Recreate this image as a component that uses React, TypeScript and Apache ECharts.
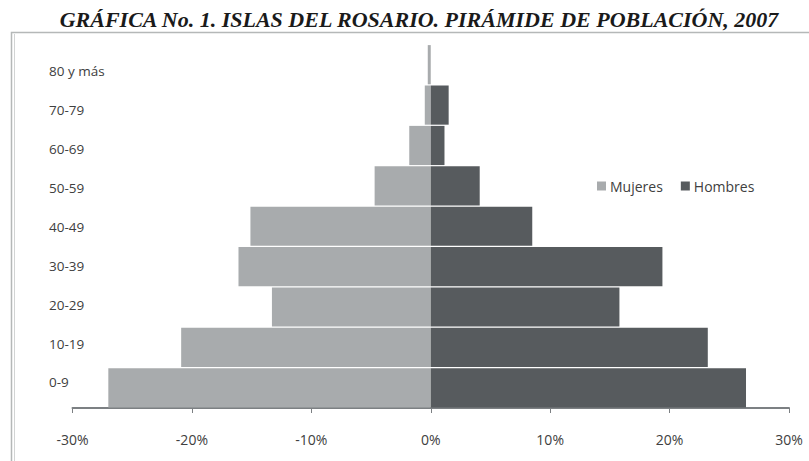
import React, { useEffect, useRef } from "react";
import * as echarts from "echarts";

const categories = ["0-9", "10-19", "20-29", "30-39", "40-49", "50-59", "60-69", "70-79", "80 y más"];
const mujeres = [27.0, 20.9, 13.3, 16.1, 15.1, 4.7, 1.8, 0.5, 0.25];
const hombres = [26.4, 23.2, 15.8, 19.4, 8.5, 4.1, 1.15, 1.5, 0];
const xTicks = { min: -30, max: 30, interval: 10 };
const titleText = "GRÁFICA No. 1. ISLAS DEL ROSARIO. PIRÁMIDE DE POBLACIÓN, 2007";

const FONT = "'Open Sans', 'Noto Sans', sans-serif";

export default function App() {
  const ref = useRef<HTMLDivElement>(null);
  useEffect(() => {
    if (!ref.current) return;
    const chart = echarts.init(ref.current, undefined, { renderer: "svg" });
    chart.setOption({
      animation: false,
      backgroundColor: "#ffffff",
      textStyle: { fontFamily: FONT },
      graphic: [
        {
          type: "rect",
          shape: { x: 11.5, y: 32.5, width: 900, height: 500 },
          style: { fill: "none", stroke: "#b5b8b8", lineWidth: 1.5 },
          silent: true,
        },
        {
          type: "line",
          shape: { x1: 14.5, y1: 34, x2: 14.5, y2: 470 },
          style: { stroke: "#d2d4d4", lineWidth: 1 },
          silent: true,
        },
        {
          type: "text",
          x: 419,
          y: 19,
          style: {
            text: titleText,
            fill: "#1a1a1a",
            font: "italic bold 22px 'Liberation Serif', serif",
            textAlign: "center",
            textVerticalAlign: "middle",
          },
          silent: true,
        },
      ],
      legend: {
        left: 592,
        top: 174,
        itemWidth: 9,
        itemHeight: 9,
        itemGap: 18,
        icon: "rect",
        data: ["Mujeres", "Hombres"],
        textStyle: { fontFamily: FONT, fontSize: 14, color: "#404040", padding: [0, 0, 0, -1] },
      },
      grid: [
        { left: 72.5, right: 20, top: 44.5, height: 363.5, containLabel: false },
        { left: 72, right: 20, top: 51.5, height: 350.4, containLabel: false },
      ],
      xAxis: [
        {
          gridIndex: 0,
          type: "value",
          min: xTicks.min,
          max: xTicks.max,
          interval: xTicks.interval,
          axisLine: { show: true, lineStyle: { color: "#7c8083", width: 2 } },
          axisTick: { show: true, length: 5, lineStyle: { color: "#7c8083", width: 1 } },
          splitLine: { show: false },
          axisLabel: {
            margin: 24,
            fontSize: 14,
            fontFamily: FONT,
            color: "#404040",
            formatter: (v: number) => `${v}%`,
          },
        },
        {
          gridIndex: 1,
          type: "value",
          min: 0,
          max: 1,
          show: false,
        },
      ],
      yAxis: [
        {
          gridIndex: 0,
          type: "category",
          data: categories,
          axisLine: { show: false },
          axisTick: { show: false },
          axisLabel: { show: false },
        },
        {
          gridIndex: 1,
          type: "category",
          data: categories,
          axisLine: { show: false },
          axisTick: { show: false },
          axisLabel: {
            show: true,
            align: "left",
            margin: 23,
            fontSize: 13.5,
            fontFamily: FONT,
            color: "#404040",
          },
        },
      ],
      series: [
        {
          name: "Mujeres",
          type: "bar",
          xAxisIndex: 0,
          yAxisIndex: 0,
          data: mujeres.map((v) => -v),
          barGap: "-100%",
          barCategoryGap: "3%",
          itemStyle: { color: "#a8abad" },
        },
        {
          name: "Hombres",
          type: "bar",
          xAxisIndex: 0,
          yAxisIndex: 0,
          data: hombres,
          barGap: "-100%",
          barCategoryGap: "3%",
          itemStyle: { color: "#575b5e" },
        },
      ],
    });
    return () => chart.dispose();
  }, []);
  return (
    <div
      ref={ref}
      style={{ position: "fixed", left: 0, top: 0, width: 809, height: 461 }}
    />
  );
}
